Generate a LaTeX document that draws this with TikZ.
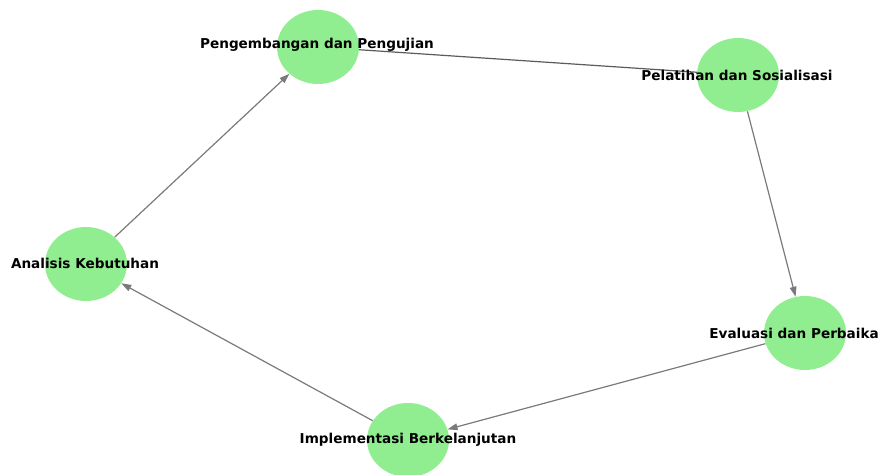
\documentclass[tikz,border=0pt]{standalone}
\usepackage{fontspec}
\setmainfont{DejaVu Sans}
\usetikzlibrary{shapes.geometric,arrows.meta}
\definecolor{nodegreen}{HTML}{90EE90}
\definecolor{edgegray}{HTML}{7A7A7A}
\begin{document}
\begin{tikzpicture}[x=0.75pt,y=-0.75pt,
  stage/.style={ellipse, fill=nodegreen, draw=none, minimum width=61.5pt, minimum height=55.5pt, inner sep=0pt},
  lbl/.style={font=\fontsize{10.2}{12}\selectfont\bfseries, text=black, inner sep=0pt},
  link/.style={draw=edgegray, line width=0.9pt, -{Triangle[length=7.5pt,width=5pt]}},
  plainlink/.style={draw=edgegray!75!black, line width=0.9pt}]
\useasboundingbox (0,0) rectangle (880,474);
\clip (0,0) rectangle (880,474);
% circles
\node[stage] (peng) at (318,47) {};
\node[stage] (pel) at (738,75) {};
\node[stage] (ana) at (86,264) {};
\node[stage] (eva) at (805,333) {};
\node[stage] (imp) at (408,440) {};
% edges
\draw[link] (ana) -- (peng);
\draw[plainlink] (peng) -- (pel);
\draw[link] (pel) -- (eva);
\draw[link] (eva) -- (imp);
\draw[link] (imp) -- (ana);
% labels
\node[lbl] (tpeng) at (317,45) {Pengembangan dan Pengujian};
\node[lbl] (tpel) at (737,75) {Pelatihan dan Sosialisasi};
\node[lbl] (tana) at (85,263) {Analisis Kebutuhan};
\node[lbl, anchor=east] (teva) at (879,333) {Evaluasi dan Perbaika};
\node[lbl] (timp) at (408,440) {Implementasi Berkelanjutan};
\end{tikzpicture}
\end{document}
